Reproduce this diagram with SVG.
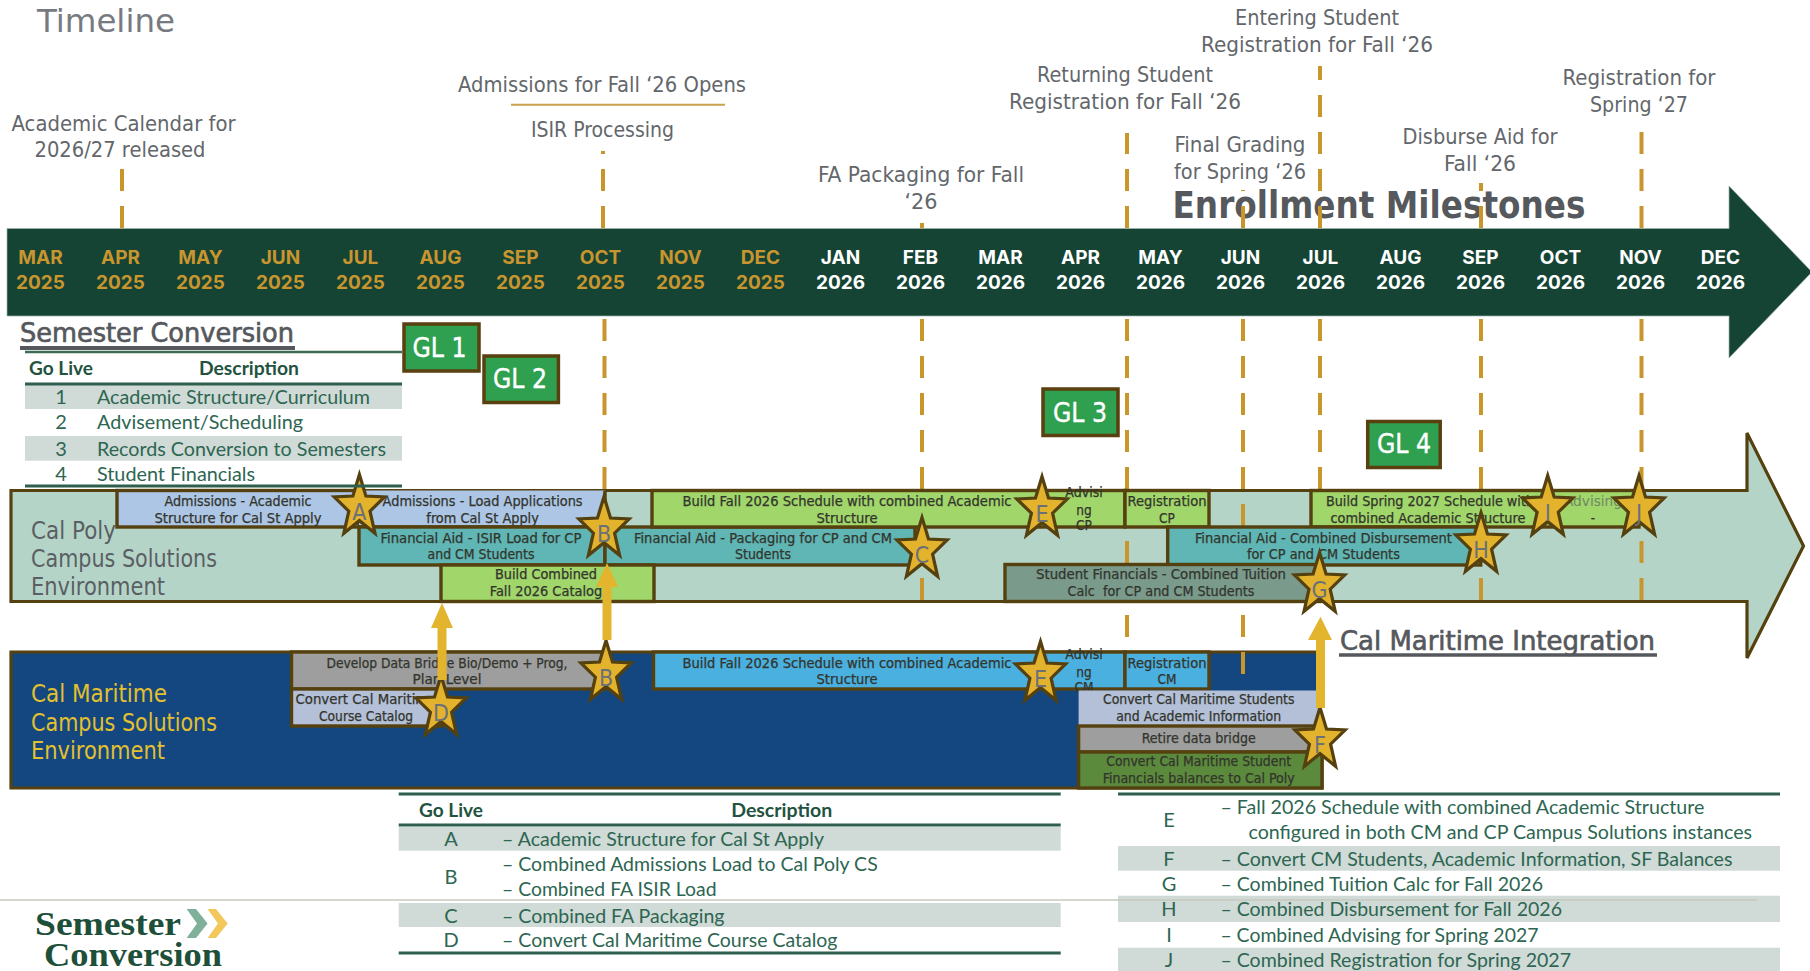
<svg xmlns="http://www.w3.org/2000/svg" width="1810" height="971" viewBox="0 0 1810 971">
<style>
text{font-family:"DejaVu Sans Condensed","DejaVu Sans","Liberation Sans",sans-serif;font-stretch:condensed}
.m{text-anchor:middle}
.lb{font-size:21px;fill:#63676b}
.mo{font-family:Inter,"Liberation Sans",sans-serif;font-stretch:normal;font-size:19px;font-weight:700;text-anchor:middle}
.g{fill:#c8952e}.w{fill:#fff}
.bar{stroke:#55400f;stroke-width:3.4}
.bt{font-size:13.5px;fill:#33352d;stroke:#33352d;stroke-width:.25;text-anchor:middle}
.d{stroke:#c8962a;stroke-width:4;stroke-dasharray:22 15;fill:none}
.hd{font-size:26px;fill:#55585c;stroke:#55585c;stroke-width:.6}
.env{font-size:25px}
.gl rect{fill:#2ea04f;stroke:#5a3f0f;stroke-width:3.5}
.gl text{font-size:27px;fill:#fff;stroke:#fff;stroke-width:.4;text-anchor:middle}
.st text{font-size:23px;fill:#6b7078;text-anchor:middle}
.tb{font-family:Lato,"Liberation Sans",sans-serif;font-stretch:normal;font-size:20px;fill:#2d6652}
.th{font-family:Lato,"Liberation Sans",sans-serif;font-stretch:normal;font-size:19px;font-weight:700;fill:#23523f;text-anchor:middle}
.ln{stroke:#2d5f4c;stroke-width:3}
.band{fill:#d0dad6}
.ar{fill:#e3b52e}
</style>
<defs>
<polygon id="star" points="0,-32.5 6.5,-11 25.2,-10 10.6,4.2 15.6,26.3 0,13.65 -15.6,26.3 -10.6,4.2 -25.2,-10 -6.5,-11" fill="#e3b32e" stroke="#55400f" stroke-width="3.2" stroke-linejoin="miter"/>
</defs>
<rect width="1810" height="971" fill="#fff"/>

<g id="title"><text x="37" y="32" font-size="32" fill="#777b7f" textLength="138" lengthAdjust="spacingAndGlyphs">Timeline</text></g>

<g id="milestone-labels" class="lb">
<text class="m lb" x="123.5" y="130.7" textLength="224" lengthAdjust="spacingAndGlyphs">Academic Calendar for</text>
<text class="m lb" x="120" y="157" textLength="171" lengthAdjust="spacingAndGlyphs">2026/27 released</text>
<text class="m lb" x="602" y="92" textLength="288" lengthAdjust="spacingAndGlyphs">Admissions for Fall ‘26 Opens</text>
<text class="m lb" x="602.5" y="137" textLength="143" lengthAdjust="spacingAndGlyphs">ISIR Processing</text>
<text class="m lb" x="921" y="182" textLength="206" lengthAdjust="spacingAndGlyphs">FA Packaging for Fall</text>
<text class="m lb" x="921" y="209" textLength="33" lengthAdjust="spacingAndGlyphs">‘26</text>
<text class="m lb" x="1125" y="82" textLength="176" lengthAdjust="spacingAndGlyphs">Returning Student</text>
<text class="m lb" x="1125" y="108.7" textLength="232" lengthAdjust="spacingAndGlyphs">Registration for Fall ‘26</text>
<text class="m lb" x="1317" y="25" textLength="164" lengthAdjust="spacingAndGlyphs">Entering Student</text>
<text class="m lb" x="1317" y="52" textLength="232" lengthAdjust="spacingAndGlyphs">Registration for Fall ‘26</text>
<text class="m lb" x="1240" y="152" textLength="131" lengthAdjust="spacingAndGlyphs">Final Grading</text>
<text class="m lb" x="1240" y="179" textLength="132" lengthAdjust="spacingAndGlyphs">for Spring ‘26</text>
<text class="m lb" x="1480" y="144" textLength="155" lengthAdjust="spacingAndGlyphs">Disburse Aid for</text>
<text class="m lb" x="1480" y="171" textLength="72" lengthAdjust="spacingAndGlyphs">Fall ‘26</text>
<text class="m lb" x="1639" y="85" textLength="153" lengthAdjust="spacingAndGlyphs">Registration for</text>
<text class="m lb" x="1639" y="112" textLength="98" lengthAdjust="spacingAndGlyphs">Spring ‘27</text>
<line x1="511" y1="104.7" x2="725" y2="104.7" stroke="#c9a24e" stroke-width="2"/>
</g>

<g id="enrollment-title"><text x="1172.5" y="218" font-size="37" font-weight="700" fill="#55585c" textLength="413" lengthAdjust="spacingAndGlyphs">Enrollment Milestones</text></g>

<g id="timeline-arrow">
<polygon points="7,228.5 1729,228.5 1729,186 1812,272 1729,358 1729,316 7,316" fill="#154435" stroke="#9fb5ad" stroke-width="0.7"/>
<g id="months">
<text class="mo g" x="40.5" y="264">MAR</text><text class="mo g" x="40.5" y="288.7">2025</text>
<text class="mo g" x="120.5" y="264">APR</text><text class="mo g" x="120.5" y="288.7">2025</text>
<text class="mo g" x="200.5" y="264">MAY</text><text class="mo g" x="200.5" y="288.7">2025</text>
<text class="mo g" x="280.5" y="264">JUN</text><text class="mo g" x="280.5" y="288.7">2025</text>
<text class="mo g" x="360.5" y="264">JUL</text><text class="mo g" x="360.5" y="288.7">2025</text>
<text class="mo g" x="440.5" y="264">AUG</text><text class="mo g" x="440.5" y="288.7">2025</text>
<text class="mo g" x="520.5" y="264">SEP</text><text class="mo g" x="520.5" y="288.7">2025</text>
<text class="mo g" x="600.5" y="264">OCT</text><text class="mo g" x="600.5" y="288.7">2025</text>
<text class="mo g" x="680.5" y="264">NOV</text><text class="mo g" x="680.5" y="288.7">2025</text>
<text class="mo g" x="760.5" y="264">DEC</text><text class="mo g" x="760.5" y="288.7">2025</text>
<text class="mo w" x="840.5" y="264">JAN</text><text class="mo w" x="840.5" y="288.7">2026</text>
<text class="mo w" x="920.5" y="264">FEB</text><text class="mo w" x="920.5" y="288.7">2026</text>
<text class="mo w" x="1000.5" y="264">MAR</text><text class="mo w" x="1000.5" y="288.7">2026</text>
<text class="mo w" x="1080.5" y="264">APR</text><text class="mo w" x="1080.5" y="288.7">2026</text>
<text class="mo w" x="1160.5" y="264">MAY</text><text class="mo w" x="1160.5" y="288.7">2026</text>
<text class="mo w" x="1240.5" y="264">JUN</text><text class="mo w" x="1240.5" y="288.7">2026</text>
<text class="mo w" x="1320.5" y="264">JUL</text><text class="mo w" x="1320.5" y="288.7">2026</text>
<text class="mo w" x="1400.5" y="264">AUG</text><text class="mo w" x="1400.5" y="288.7">2026</text>
<text class="mo w" x="1480.5" y="264">SEP</text><text class="mo w" x="1480.5" y="288.7">2026</text>
<text class="mo w" x="1560.5" y="264">OCT</text><text class="mo w" x="1560.5" y="288.7">2026</text>
<text class="mo w" x="1640.5" y="264">NOV</text><text class="mo w" x="1640.5" y="288.7">2026</text>
<text class="mo w" x="1720.5" y="264">DEC</text><text class="mo w" x="1720.5" y="288.7">2026</text>
</g>
</g>

<g id="cal-poly-band">
<polygon points="11,490.5 1747,490.5 1747,433 1803.5,546 1747,658 1747,601.5 11,601.5" fill="#b5d4c8" stroke="#55400f" stroke-width="3.2"/>
</g>
<g id="cal-maritime-band">
<polygon points="11,652 1320,652 1320,752 1322,752 1322,788 11,788" fill="#14477f" stroke="#55400f" stroke-width="3.2"/>
</g>

<g id="connectors">
<line class="d" x1="122" y1="228" x2="122" y2="169"/>
<line class="d" x1="603" y1="228" x2="603" y2="151"/>
<line class="d" x1="922" y1="228" x2="922" y2="223"/>
<line class="d" x1="1127" y1="228" x2="1127" y2="133"/>
<line class="d" x1="1243" y1="228" x2="1243" y2="190"/>
<line class="d" x1="1320" y1="228" x2="1320" y2="66"/>
<line class="d" x1="1481" y1="228" x2="1481" y2="183"/>
<line class="d" x1="1641.5" y1="228" x2="1641.5" y2="132"/>
<line class="d" x1="604.5" y1="319" x2="604.5" y2="500"/>
<line class="d" x1="922" y1="319" x2="922" y2="601"/>
<line class="d" x1="1127" y1="319" x2="1127" y2="640"/>
<line class="d" x1="1243" y1="319" x2="1243" y2="677"/>
<line class="d" x1="1320" y1="319" x2="1320" y2="490"/>
<line class="d" x1="1481" y1="319" x2="1481" y2="601"/>
<line class="d" x1="1641.5" y1="319" x2="1641.5" y2="601"/>
</g>

<g id="cp-adm-academic"><rect class="bar" x="117" y="490.5" width="242" height="36.5" fill="#adc6e6"/><text class="bt" x="238" y="506" textLength="147" lengthAdjust="spacingAndGlyphs">Admissions - Academic</text><text class="bt" x="238" y="522.7" textLength="167" lengthAdjust="spacingAndGlyphs">Structure for Cal St Apply</text></g>
<g id="cp-adm-load"><rect class="bar" x="359" y="490.5" width="246" height="36.5" fill="#adc6e6" stroke="none" style="stroke:none"/><path d="M359,527H605V490.5" fill="none" stroke="#55400f" stroke-width="3.4"/><text class="bt" x="482.6" y="506" textLength="200" lengthAdjust="spacingAndGlyphs">Admissions - Load Applications</text><text class="bt" x="482.6" y="522.7" textLength="112.5" lengthAdjust="spacingAndGlyphs">from Cal St Apply</text></g>
<g id="cp-fa-isir"><rect class="bar" x="359" y="527" width="246" height="38" fill="#5fb6b4"/><text class="bt" x="481" y="542.7" textLength="201" lengthAdjust="spacingAndGlyphs">Financial Aid - ISIR Load for CP</text><text class="bt" x="481" y="559.3" textLength="107" lengthAdjust="spacingAndGlyphs">and CM Students</text></g>
<g id="cp-fa-pack"><rect class="bar" x="605" y="527" width="310" height="38" fill="#5fb6b4"/><text class="bt" x="763" y="542.7" textLength="258" lengthAdjust="spacingAndGlyphs">Financial Aid - Packaging for CP and CM</text><text class="bt" x="763" y="559.3" textLength="56" lengthAdjust="spacingAndGlyphs">Students</text></g>
<g id="cp-catalog"><rect class="bar" x="441" y="565" width="213" height="36.5" fill="#a1d66a"/><text class="bt" x="546" y="579" textLength="102" lengthAdjust="spacingAndGlyphs">Build Combined</text><text class="bt" x="546" y="596" textLength="112.5" lengthAdjust="spacingAndGlyphs">Fall 2026 Catalog</text></g>
<g id="cp-build-fall"><rect class="bar" x="652" y="490.5" width="473" height="36.5" fill="#a1d66a"/><text class="bt" x="847" y="506" textLength="329" lengthAdjust="spacingAndGlyphs">Build Fall 2026 Schedule with combined Academic</text><text class="bt" x="847" y="523" textLength="61" lengthAdjust="spacingAndGlyphs">Structure</text></g>
<g id="cp-advising"><text class="bt" x="1084" y="496.7" textLength="37.5" lengthAdjust="spacingAndGlyphs">Advisi</text><text class="bt" x="1084" y="515">ng</text><text class="bt" x="1084" y="530">CP</text></g>
<g id="cp-registration"><rect class="bar" x="1125" y="490.5" width="84" height="36.5" fill="#a1d66a"/><text class="bt" x="1167" y="506" textLength="79" lengthAdjust="spacingAndGlyphs">Registration</text><text class="bt" x="1167" y="523">CP</text></g>
<g id="cp-build-spring"><rect class="bar" x="1311" y="490.5" width="328" height="36.5" fill="#a1d66a"/><text class="bt" x="1430" y="506" textLength="208" lengthAdjust="spacingAndGlyphs">Build Spring 2027 Schedule with</text><text class="bt" x="1428" y="522.7" textLength="195" lengthAdjust="spacingAndGlyphs">combined Academic Structure</text></g>
<g id="cp-advising-2"><text class="bt" x="1593" y="506" style="fill:#6e8a64;stroke:none" textLength="58" lengthAdjust="spacingAndGlyphs">Advising</text><text class="bt" x="1593" y="522.7">-</text></g>
<g id="cp-fa-disb"><rect class="bar" x="1167.7" y="527" width="313" height="38" fill="#5fb6b4"/><text class="bt" x="1323.4" y="542.7" textLength="257" lengthAdjust="spacingAndGlyphs">Financial Aid - Combined Disbursement</text><text class="bt" x="1323.4" y="559.3" textLength="153" lengthAdjust="spacingAndGlyphs">for CP and CM Students</text></g>
<g id="cp-sf"><rect class="bar" x="1005" y="564.5" width="315" height="37" fill="#7a9b8c"/><text class="bt" x="1161" y="579" textLength="250" lengthAdjust="spacingAndGlyphs">Student Financials - Combined Tuition</text><text class="bt" x="1161" y="596" textLength="187" lengthAdjust="spacingAndGlyphs" xml:space="preserve">Calc  for CP and CM Students</text></g>

<g id="cm-bridge"><rect class="bar" x="291.5" y="652" width="315" height="37" fill="#9e9e9e"/><text class="bt" x="447" y="667.7" textLength="241" lengthAdjust="spacingAndGlyphs">Develop Data Bridge Bio/Demo + Prog,</text><text class="bt" x="447" y="684" textLength="69" lengthAdjust="spacingAndGlyphs">Plan Level</text></g>
<g id="cm-catalog"><rect class="bar" x="291.5" y="689" width="150" height="37" fill="#b3c0d8"/><text class="bt" x="366" y="704" textLength="141" lengthAdjust="spacingAndGlyphs">Convert Cal Maritime</text><text class="bt" x="366" y="721" textLength="94" lengthAdjust="spacingAndGlyphs">Course Catalog</text></g>
<g id="cm-build-fall"><rect class="bar" x="653.5" y="652" width="471.5" height="37" fill="#4ab0e0"/><text class="bt" x="847" y="667.7" textLength="329" lengthAdjust="spacingAndGlyphs">Build Fall 2026 Schedule with combined Academic</text><text class="bt" x="847" y="684" textLength="61" lengthAdjust="spacingAndGlyphs">Structure</text></g>
<g id="cm-advising"><text class="bt" x="1084" y="659" textLength="37.5" lengthAdjust="spacingAndGlyphs">Advisi</text><text class="bt" x="1084" y="676.7">ng</text></g>
<g id="cm-registration"><rect class="bar" x="1125" y="652" width="84" height="37" fill="#4ab0e0"/><text class="bt" x="1167" y="667.7" textLength="79" lengthAdjust="spacingAndGlyphs">Registration</text><text class="bt" x="1167" y="684">CM</text></g>
<g id="cm-advising-cm"><text class="bt" x="1084" y="691.7">CM</text></g>
<g id="cm-convert"><rect x="1078.6" y="690.5" width="241.4" height="35.5" fill="#b3c0d8"/><text class="bt" x="1198.7" y="704" textLength="191.5" lengthAdjust="spacingAndGlyphs">Convert Cal Maritime Students</text><text class="bt" x="1198.7" y="721" textLength="165" lengthAdjust="spacingAndGlyphs">and Academic Information</text></g>
<g id="cm-retire"><rect class="bar" x="1078.6" y="726" width="241.4" height="26" fill="#9e9e9e"/><text class="bt" x="1198.7" y="743" textLength="114" lengthAdjust="spacingAndGlyphs">Retire data bridge</text></g>
<g id="cm-financials"><rect class="bar" x="1078.6" y="752" width="243.4" height="36" fill="#5c8a3c"/><text class="bt" x="1198.7" y="766" textLength="185" lengthAdjust="spacingAndGlyphs">Convert Cal Maritime Student</text><text class="bt" x="1198.7" y="782.7" textLength="192" lengthAdjust="spacingAndGlyphs">Financials balances to Cal Poly</text></g>

<g id="env-labels">
<text class="env" x="31" y="539" fill="#5a5f63" textLength="85" lengthAdjust="spacingAndGlyphs">Cal Poly</text>
<text class="env" x="31" y="567" fill="#5a5f63" textLength="186" lengthAdjust="spacingAndGlyphs">Campus Solutions</text>
<text class="env" x="31" y="595" fill="#5a5f63" textLength="134" lengthAdjust="spacingAndGlyphs">Environment</text>
<text class="env" x="31" y="702" fill="#e3c02e" textLength="136" lengthAdjust="spacingAndGlyphs">Cal Maritime</text>
<text class="env" x="31" y="730.7" fill="#e3c02e" textLength="186" lengthAdjust="spacingAndGlyphs">Campus Solutions</text>
<text class="env" x="31" y="759" fill="#e3c02e" textLength="134" lengthAdjust="spacingAndGlyphs">Environment</text>
</g>

<g id="star-a" class="st"><use href="#star" x="359.4" y="507"/><text x="359.4" y="520">A</text></g>
<g id="star-b-cp" class="st"><use href="#star" x="604" y="529"/><text x="604" y="542">B</text></g>
<g id="star-c" class="st"><use href="#star" x="922" y="550"/><text x="922" y="563">C</text></g>
<g id="star-e-cp" class="st"><use href="#star" x="1042" y="509"/><text x="1042" y="522">E</text></g>
<g id="star-h" class="st"><use href="#star" x="1481" y="545"/><text x="1481" y="558">H</text></g>
<g id="star-g" class="st"><use href="#star" x="1319.6" y="585"/><text x="1319.6" y="598">G</text></g>
<g id="star-i" class="st"><use href="#star" x="1547.7" y="508"/><text x="1547.7" y="521">I</text></g>
<g id="star-j" class="st"><use href="#star" x="1639" y="508"/><text x="1639" y="521">J</text></g>
<g id="star-b-cm" class="st"><use href="#star" x="606" y="673"/><text x="606" y="686">B</text></g>
<g id="star-d" class="st"><use href="#star" x="441" y="708"/><text x="441" y="721">D</text></g>
<g id="star-e-cm" class="st"><use href="#star" x="1040.5" y="674"/><text x="1040.5" y="687">E</text></g>
<g id="star-f" class="st"><use href="#star" x="1320" y="740"/><text x="1320" y="753">F</text></g>

<g id="connectors-arrows">
<polygon class="ar" points="442,603 453,628 446.5,628 446.5,680 437.5,680 437.5,628 431,628"/>
<polygon class="ar" points="607,563 618,587 611.5,587 611.5,640 602.5,640 602.5,587 596,587"/>
<polygon class="ar" points="1320.5,616.7 1332,640 1325,640 1325,708 1316,708 1316,640 1308,640"/>
</g>

<g id="gl-1" class="gl"><rect x="404" y="324" width="75" height="47"/><text x="439.5" y="356.7" textLength="54" lengthAdjust="spacingAndGlyphs">GL 1</text></g>
<g id="gl-2" class="gl"><rect x="484" y="356" width="74.4" height="46.5"/><text x="520" y="388" textLength="54" lengthAdjust="spacingAndGlyphs">GL 2</text></g>
<g id="gl-3" class="gl"><rect x="1043" y="389" width="75" height="46.5"/><text x="1080" y="421.7" textLength="54" lengthAdjust="spacingAndGlyphs">GL 3</text></g>
<g id="gl-4" class="gl"><rect x="1367.7" y="421.5" width="72.5" height="46"/><text x="1404" y="453" textLength="54" lengthAdjust="spacingAndGlyphs">GL 4</text></g>

<g id="semester-table">
<text x="20" y="341.7" class="hd" textLength="274" lengthAdjust="spacingAndGlyphs">Semester Conversion</text>
<line x1="25" y1="352" x2="402" y2="352" stroke="#3d6b55" stroke-width="2.5"/>
<line x1="20" y1="348" x2="295" y2="348" stroke="#55585c" stroke-width="4"/>
<rect class="band" x="25" y="385" width="377" height="24"/>
<rect class="band" x="25" y="436" width="377" height="24.7"/>
<line class="ln" x1="25" y1="384" x2="402" y2="384"/>
<line class="ln" x1="25" y1="486" x2="402" y2="486"/>
<text class="th" x="61" y="375" textLength="64" lengthAdjust="spacingAndGlyphs">Go Live</text>
<text class="th" x="249" y="375" textLength="100" lengthAdjust="spacingAndGlyphs">Description</text>
<text class="tb m" x="61" y="404">1</text><text class="tb" x="97" y="404" textLength="273" lengthAdjust="spacingAndGlyphs">Academic Structure/Curriculum</text>
<text class="tb m" x="61" y="429">2</text><text class="tb" x="97" y="429" textLength="206" lengthAdjust="spacingAndGlyphs">Advisement/Scheduling</text>
<text class="tb m" x="61" y="455.7">3</text><text class="tb" x="97" y="455.7" textLength="289" lengthAdjust="spacingAndGlyphs">Records Conversion to Semesters</text>
<text class="tb m" x="61" y="480.7">4</text><text class="tb" x="97" y="480.7" textLength="158" lengthAdjust="spacingAndGlyphs">Student Financials</text>
</g>

<g id="cal-maritime-integration">
<text x="1340" y="650" class="hd" textLength="315" lengthAdjust="spacingAndGlyphs">Cal Maritime Integration</text>
<line x1="1339" y1="655" x2="1657" y2="655" stroke="#55585c" stroke-width="3.5"/>
</g>

<g id="golive-table-1">
<rect class="band" x="398.7" y="827" width="662" height="23.7"/>
<rect class="band" x="398.7" y="903" width="662" height="24"/>
<line class="ln" x1="398.7" y1="794" x2="1060.7" y2="794"/>
<line class="ln" x1="398.7" y1="825" x2="1060.7" y2="825"/>
<line class="ln" x1="398.7" y1="953" x2="1060.7" y2="953"/>
<text class="th" x="451" y="816.7" textLength="64" lengthAdjust="spacingAndGlyphs">Go Live</text>
<text class="th" x="781.7" y="816.7" textLength="101" lengthAdjust="spacingAndGlyphs">Description</text>
<text class="tb m" x="451" y="845.7">A</text><text class="tb" x="502" y="845.7" textLength="322" lengthAdjust="spacingAndGlyphs">– Academic Structure for Cal St Apply</text>
<text class="tb m" x="451" y="884">B</text><text class="tb" x="502" y="870.7" textLength="375.7" lengthAdjust="spacingAndGlyphs">– Combined Admissions Load to Cal Poly CS</text>
<text class="tb" x="502" y="895.7" textLength="214.5" lengthAdjust="spacingAndGlyphs">– Combined FA ISIR Load</text>
<text class="tb m" x="451" y="922.7">C</text><text class="tb" x="502" y="922.7" textLength="222.5" lengthAdjust="spacingAndGlyphs">– Combined FA Packaging</text>
<text class="tb m" x="451" y="947">D</text><text class="tb" x="502" y="947" textLength="335.5" lengthAdjust="spacingAndGlyphs">– Convert Cal Maritime Course Catalog</text>
</g>

<g id="golive-table-2">
<rect class="band" x="1118" y="846" width="662" height="24.7"/>
<rect class="band" x="1118" y="895.7" width="662" height="26.3"/>
<rect class="band" x="1118" y="947.7" width="662" height="23.3"/>
<line class="ln" x1="1118" y1="794" x2="1780" y2="794"/>
<text class="tb m" x="1169" y="826.7">E</text><text class="tb" x="1220.4" y="814.3" textLength="484" lengthAdjust="spacingAndGlyphs">– Fall 2026 Schedule with combined Academic Structure</text>
<text class="tb" x="1248.5" y="839.3" textLength="503.5" lengthAdjust="spacingAndGlyphs">configured in both CM and CP Campus Solutions instances</text>
<text class="tb m" x="1169" y="865.7">F</text><text class="tb" x="1220.4" y="865.7" textLength="512" lengthAdjust="spacingAndGlyphs">– Convert CM Students, Academic Information, SF Balances</text>
<text class="tb m" x="1169" y="890.7">G</text><text class="tb" x="1220.4" y="890.7" textLength="322.6" lengthAdjust="spacingAndGlyphs">– Combined Tuition Calc for Fall 2026</text>
<text class="tb m" x="1169" y="915.7">H</text><text class="tb" x="1220.4" y="915.7" textLength="341.6" lengthAdjust="spacingAndGlyphs">– Combined Disbursement for Fall 2026</text>
<text class="tb m" x="1169" y="942.4">I</text><text class="tb" x="1220.4" y="942.4" textLength="318" lengthAdjust="spacingAndGlyphs">– Combined Advising for Spring 2027</text>
<text class="tb m" x="1169" y="967.3">J</text><text class="tb" x="1220.4" y="967.3" textLength="350.6" lengthAdjust="spacingAndGlyphs">– Combined Registration for Spring 2027</text>
</g>

<g id="footer-rule"><line x1="0" y1="900" x2="1756.7" y2="900" stroke="#c8c8c0" stroke-width="1.5"/></g>

<g id="logo">
<text x="35" y="934.5" font-size="33" font-weight="700" fill="#1d4f39" style="font-family:'Liberation Serif',serif;font-stretch:normal" textLength="146" lengthAdjust="spacingAndGlyphs">Semester</text>
<text x="44" y="965.5" font-size="33" font-weight="700" fill="#1d4f39" style="font-family:'Liberation Serif',serif;font-stretch:normal" textLength="178" lengthAdjust="spacingAndGlyphs">Conversion</text>
<polygon points="186.6,909 196,909 207.6,923.5 196,938 186.6,938 197,923.5" fill="#7fb09a"/>
<polygon points="207.6,909 216,909 227.7,923.5 216,938 207.6,938 218,923.5" fill="#f2c75c"/>
</g>
</svg>
